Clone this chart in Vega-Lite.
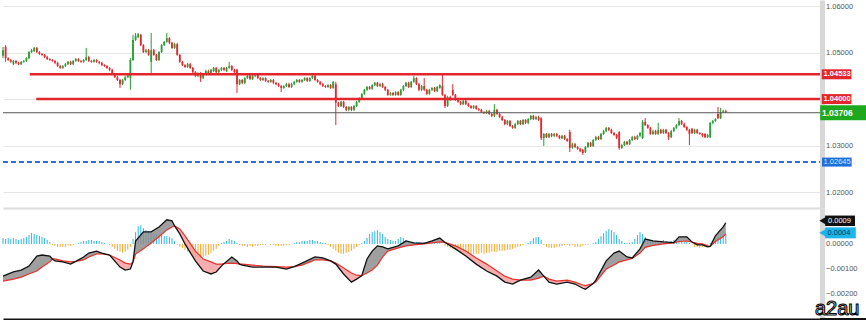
{
"$schema":"https://vega.github.io/schema/vega-lite/v6.json",
"padding":0,
"spacing":0,
"background":"#ffffff",
"config":{"view":{"stroke":null},"font":"Liberation Sans"},
"datasets":{
"candles":[
{"i":0,"o":1.0493,"h":1.0512,"l":1.0488,"c":1.0505,"hs":0.00024},
{"i":1,"o":1.0512,"h":1.0516,"l":1.0480,"c":1.0488,"hs":0.0002},
{"i":2,"o":1.0488,"h":1.0490,"l":1.0482,"c":1.0484,"hs":0.00024},
{"i":3,"o":1.0484,"h":1.0486,"l":1.0478,"c":1.0480,"hs":0.0002},
{"i":4,"o":1.0475,"h":1.0484,"l":1.0473,"c":1.0482,"hs":0.00024},
{"i":5,"o":1.0482,"h":1.0484,"l":1.0475,"c":1.0478,"hs":0.0002},
{"i":6,"o":1.0478,"h":1.0480,"l":1.0473,"c":1.0475,"hs":0.00016},
{"i":7,"o":1.0475,"h":1.0482,"l":1.0473,"c":1.0480,"hs":0.0002},
{"i":8,"o":1.0480,"h":1.0484,"l":1.0478,"c":1.0482,"hs":0.00024},
{"i":9,"o":1.0482,"h":1.0490,"l":1.0480,"c":1.0488,"hs":0.00028},
{"i":10,"o":1.0488,"h":1.0503,"l":1.0486,"c":1.0501,"hs":0.00036},
{"i":11,"o":1.0501,"h":1.0508,"l":1.0499,"c":1.0505,"hs":0.00044},
{"i":12,"o":1.0503,"h":1.0512,"l":1.0501,"c":1.0510,"hs":0.0004},
{"i":13,"o":1.0510,"h":1.0512,"l":1.0499,"c":1.0501,"hs":0.00036},
{"i":14,"o":1.0501,"h":1.0503,"l":1.0495,"c":1.0497,"hs":0.00032},
{"i":15,"o":1.0497,"h":1.0499,"l":1.0493,"c":1.0495,"hs":0.00028},
{"i":16,"o":1.0495,"h":1.0497,"l":1.0488,"c":1.0490,"hs":0.00024},
{"i":17,"o":1.0490,"h":1.0493,"l":1.0484,"c":1.0486,"hs":0.00016},
{"i":18,"o":1.0486,"h":1.0488,"l":1.0482,"c":1.0484,"hs":0.00008},
{"i":19,"o":1.0484,"h":1.0486,"l":1.0480,"c":1.0482,"hs":-0.00004},
{"i":20,"o":1.0482,"h":1.0484,"l":1.0475,"c":1.0478,"hs":-0.00008},
{"i":21,"o":1.0478,"h":1.0480,"l":1.0469,"c":1.0471,"hs":-0.00012},
{"i":22,"o":1.0471,"h":1.0473,"l":1.0465,"c":1.0467,"hs":-0.00012},
{"i":23,"o":1.0467,"h":1.0473,"l":1.0465,"c":1.0471,"hs":-0.00012},
{"i":24,"o":1.0471,"h":1.0478,"l":1.0469,"c":1.0475,"hs":-0.00012},
{"i":25,"o":1.0475,"h":1.0482,"l":1.0473,"c":1.0480,"hs":-0.00008},
{"i":26,"o":1.0480,"h":1.0482,"l":1.0473,"c":1.0475,"hs":-0.00008},
{"i":27,"o":1.0475,"h":1.0484,"l":1.0473,"c":1.0482,"hs":-0.00004},
{"i":28,"o":1.0482,"h":1.0488,"l":1.0480,"c":1.0486,"hs":0},
{"i":29,"o":1.0486,"h":1.0488,"l":1.0480,"c":1.0482,"hs":0.00004},
{"i":30,"o":1.0482,"h":1.0484,"l":1.0478,"c":1.0480,"hs":0.00008},
{"i":31,"o":1.0480,"h":1.0486,"l":1.0478,"c":1.0484,"hs":0.00012},
{"i":32,"o":1.0484,"h":1.0510,"l":1.0482,"c":1.0490,"hs":0.00012},
{"i":33,"o":1.0490,"h":1.0493,"l":1.0480,"c":1.0482,"hs":0.00016},
{"i":34,"o":1.0482,"h":1.0484,"l":1.0478,"c":1.0480,"hs":0.00016},
{"i":35,"o":1.0480,"h":1.0486,"l":1.0478,"c":1.0484,"hs":0.00012},
{"i":36,"o":1.0484,"h":1.0486,"l":1.0478,"c":1.0480,"hs":0.00012},
{"i":37,"o":1.0480,"h":1.0482,"l":1.0475,"c":1.0478,"hs":0.00012},
{"i":38,"o":1.0478,"h":1.0480,"l":1.0471,"c":1.0473,"hs":0.00008},
{"i":39,"o":1.0473,"h":1.0475,"l":1.0469,"c":1.0471,"hs":0.00004},
{"i":40,"o":1.0471,"h":1.0473,"l":1.0465,"c":1.0467,"hs":0},
{"i":41,"o":1.0467,"h":1.0469,"l":1.0460,"c":1.0463,"hs":-0.00004},
{"i":42,"o":1.0463,"h":1.0465,"l":1.0452,"c":1.0454,"hs":-0.00012},
{"i":43,"o":1.0454,"h":1.0456,"l":1.0445,"c":1.0447,"hs":-0.0002},
{"i":44,"o":1.0447,"h":1.0450,"l":1.0439,"c":1.0441,"hs":-0.00028},
{"i":45,"o":1.0441,"h":1.0443,"l":1.0424,"c":1.0432,"hs":-0.00032},
{"i":46,"o":1.0432,"h":1.0443,"l":1.0430,"c":1.0441,"hs":-0.00036},
{"i":47,"o":1.0441,"h":1.0450,"l":1.0439,"c":1.0447,"hs":-0.00032},
{"i":48,"o":1.0447,"h":1.0454,"l":1.0445,"c":1.0452,"hs":-0.00024},
{"i":49,"o":1.0445,"h":1.0488,"l":1.0420,"c":1.0484,"hs":-0.00012},
{"i":50,"o":1.0484,"h":1.0538,"l":1.0482,"c":1.0527,"hs":0.0002},
{"i":51,"o":1.0527,"h":1.0542,"l":1.0525,"c":1.0536,"hs":0.00048},
{"i":52,"o":1.0533,"h":1.0542,"l":1.0531,"c":1.0540,"hs":0.00072},
{"i":53,"o":1.0538,"h":1.0540,"l":1.0514,"c":1.0516,"hs":0.00076},
{"i":54,"o":1.0516,"h":1.0518,"l":1.0499,"c":1.0501,"hs":0.00064},
{"i":55,"o":1.0501,"h":1.0508,"l":1.0499,"c":1.0505,"hs":0.00056},
{"i":56,"o":1.0505,"h":1.0508,"l":1.0493,"c":1.0495,"hs":0.00052},
{"i":57,"o":1.0480,"h":1.0542,"l":1.0452,"c":1.0505,"hs":0.00048},
{"i":58,"o":1.0505,"h":1.0508,"l":1.0493,"c":1.0495,"hs":0.00044},
{"i":59,"o":1.0495,"h":1.0497,"l":1.0482,"c":1.0484,"hs":0.0004},
{"i":60,"o":1.0484,"h":1.0503,"l":1.0482,"c":1.0501,"hs":0.00036},
{"i":61,"o":1.0501,"h":1.0518,"l":1.0499,"c":1.0516,"hs":0.00036},
{"i":62,"o":1.0516,"h":1.0525,"l":1.0514,"c":1.0523,"hs":0.00032},
{"i":63,"o":1.0523,"h":1.0542,"l":1.0521,"c":1.0531,"hs":0.00032},
{"i":64,"o":1.0531,"h":1.0533,"l":1.0518,"c":1.0521,"hs":0.00028},
{"i":65,"o":1.0521,"h":1.0523,"l":1.0508,"c":1.0510,"hs":0.00024},
{"i":66,"o":1.0510,"h":1.0521,"l":1.0508,"c":1.0518,"hs":0.00012},
{"i":67,"o":1.0518,"h":1.0521,"l":1.0493,"c":1.0495,"hs":-0.00004},
{"i":68,"o":1.0495,"h":1.0497,"l":1.0478,"c":1.0480,"hs":-0.00012},
{"i":69,"o":1.0480,"h":1.0482,"l":1.0471,"c":1.0473,"hs":-0.00016},
{"i":70,"o":1.0473,"h":1.0475,"l":1.0467,"c":1.0469,"hs":-0.00024},
{"i":71,"o":1.0469,"h":1.0478,"l":1.0467,"c":1.0475,"hs":-0.00032},
{"i":72,"o":1.0475,"h":1.0478,"l":1.0465,"c":1.0467,"hs":-0.0004},
{"i":73,"o":1.0467,"h":1.0469,"l":1.0456,"c":1.0458,"hs":-0.00052},
{"i":74,"o":1.0458,"h":1.0460,"l":1.0447,"c":1.0450,"hs":-0.0006},
{"i":75,"o":1.0450,"h":1.0458,"l":1.0447,"c":1.0456,"hs":-0.0006},
{"i":76,"o":1.0456,"h":1.0458,"l":1.0437,"c":1.0445,"hs":-0.00056},
{"i":77,"o":1.0445,"h":1.0456,"l":1.0443,"c":1.0454,"hs":-0.00052},
{"i":78,"o":1.0454,"h":1.0463,"l":1.0452,"c":1.0460,"hs":-0.00048},
{"i":79,"o":1.0460,"h":1.0463,"l":1.0452,"c":1.0454,"hs":-0.00044},
{"i":80,"o":1.0454,"h":1.0465,"l":1.0452,"c":1.0463,"hs":-0.00036},
{"i":81,"o":1.0460,"h":1.0469,"l":1.0458,"c":1.0467,"hs":-0.00028},
{"i":82,"o":1.0467,"h":1.0469,"l":1.0456,"c":1.0458,"hs":-0.0002},
{"i":83,"o":1.0458,"h":1.0465,"l":1.0456,"c":1.0463,"hs":-0.00008},
{"i":84,"o":1.0463,"h":1.0469,"l":1.0460,"c":1.0467,"hs":0.00004},
{"i":85,"o":1.0467,"h":1.0469,"l":1.0460,"c":1.0463,"hs":0.00008},
{"i":86,"o":1.0460,"h":1.0469,"l":1.0458,"c":1.0467,"hs":0.00012},
{"i":87,"o":1.0467,"h":1.0480,"l":1.0465,"c":1.0471,"hs":0.0002},
{"i":88,"o":1.0471,"h":1.0473,"l":1.0460,"c":1.0463,"hs":0.00016},
{"i":89,"o":1.0463,"h":1.0465,"l":1.0456,"c":1.0458,"hs":0.00012},
{"i":90,"o":1.0463,"h":1.0465,"l":1.0413,"c":1.0432,"hs":0.00004},
{"i":91,"o":1.0432,"h":1.0443,"l":1.0430,"c":1.0441,"hs":-0.00004},
{"i":92,"o":1.0441,"h":1.0443,"l":1.0432,"c":1.0435,"hs":-0.00008},
{"i":93,"o":1.0435,"h":1.0447,"l":1.0432,"c":1.0445,"hs":-0.00008},
{"i":94,"o":1.0445,"h":1.0452,"l":1.0443,"c":1.0450,"hs":-0.00012},
{"i":95,"o":1.0450,"h":1.0452,"l":1.0441,"c":1.0443,"hs":-0.00008},
{"i":96,"o":1.0443,"h":1.0452,"l":1.0441,"c":1.0450,"hs":-0.00012},
{"i":97,"o":1.0450,"h":1.0456,"l":1.0447,"c":1.0454,"hs":-0.00008},
{"i":98,"o":1.0454,"h":1.0456,"l":1.0443,"c":1.0445,"hs":-0.00008},
{"i":99,"o":1.0445,"h":1.0447,"l":1.0439,"c":1.0441,"hs":-0.00004},
{"i":100,"o":1.0441,"h":1.0447,"l":1.0439,"c":1.0445,"hs":-0.00004},
{"i":101,"o":1.0445,"h":1.0447,"l":1.0437,"c":1.0439,"hs":-0.00004},
{"i":102,"o":1.0439,"h":1.0441,"l":1.0435,"c":1.0437,"hs":0},
{"i":103,"o":1.0437,"h":1.0443,"l":1.0435,"c":1.0441,"hs":-0.00004},
{"i":104,"o":1.0441,"h":1.0443,"l":1.0432,"c":1.0435,"hs":-0.00004},
{"i":105,"o":1.0435,"h":1.0437,"l":1.0430,"c":1.0432,"hs":-0.00008},
{"i":106,"o":1.0432,"h":1.0435,"l":1.0426,"c":1.0428,"hs":-0.00008},
{"i":107,"o":1.0428,"h":1.0430,"l":1.0415,"c":1.0424,"hs":-0.00008},
{"i":108,"o":1.0424,"h":1.0430,"l":1.0422,"c":1.0428,"hs":-0.00008},
{"i":109,"o":1.0428,"h":1.0435,"l":1.0426,"c":1.0432,"hs":-0.00004},
{"i":110,"o":1.0432,"h":1.0435,"l":1.0424,"c":1.0426,"hs":-0.00004},
{"i":111,"o":1.0426,"h":1.0435,"l":1.0424,"c":1.0432,"hs":0},
{"i":112,"o":1.0432,"h":1.0439,"l":1.0430,"c":1.0437,"hs":0.00004},
{"i":113,"o":1.0437,"h":1.0443,"l":1.0435,"c":1.0441,"hs":0.00008},
{"i":114,"o":1.0441,"h":1.0443,"l":1.0435,"c":1.0437,"hs":0.00008},
{"i":115,"o":1.0437,"h":1.0443,"l":1.0435,"c":1.0441,"hs":0.00012},
{"i":116,"o":1.0441,"h":1.0447,"l":1.0439,"c":1.0445,"hs":0.00012},
{"i":117,"o":1.0445,"h":1.0447,"l":1.0437,"c":1.0439,"hs":0.00012},
{"i":118,"o":1.0439,"h":1.0447,"l":1.0437,"c":1.0445,"hs":0.00016},
{"i":119,"o":1.0445,"h":1.0454,"l":1.0443,"c":1.0450,"hs":0.00016},
{"i":120,"o":1.0450,"h":1.0452,"l":1.0439,"c":1.0441,"hs":0.00012},
{"i":121,"o":1.0441,"h":1.0443,"l":1.0435,"c":1.0437,"hs":0.00012},
{"i":122,"o":1.0437,"h":1.0439,"l":1.0430,"c":1.0432,"hs":0.00008},
{"i":123,"o":1.0432,"h":1.0435,"l":1.0426,"c":1.0428,"hs":0.00004},
{"i":124,"o":1.0428,"h":1.0430,"l":1.0424,"c":1.0426,"hs":0.00004},
{"i":125,"o":1.0426,"h":1.0432,"l":1.0424,"c":1.0430,"hs":-0.00004},
{"i":126,"o":1.0430,"h":1.0432,"l":1.0422,"c":1.0424,"hs":-0.00012},
{"i":127,"o":1.0424,"h":1.0439,"l":1.0422,"c":1.0437,"hs":-0.0002},
{"i":128,"o":1.0432,"h":1.0437,"l":1.0344,"c":1.0392,"hs":-0.00028},
{"i":129,"o":1.0392,"h":1.0394,"l":1.0383,"c":1.0385,"hs":-0.00036},
{"i":130,"o":1.0385,"h":1.0396,"l":1.0383,"c":1.0394,"hs":-0.0004},
{"i":131,"o":1.0394,"h":1.0396,"l":1.0381,"c":1.0383,"hs":-0.0004},
{"i":132,"o":1.0383,"h":1.0385,"l":1.0374,"c":1.0377,"hs":-0.00036},
{"i":133,"o":1.0377,"h":1.0385,"l":1.0374,"c":1.0383,"hs":-0.00032},
{"i":134,"o":1.0383,"h":1.0385,"l":1.0374,"c":1.0377,"hs":-0.00028},
{"i":135,"o":1.0377,"h":1.0387,"l":1.0374,"c":1.0385,"hs":-0.0002},
{"i":136,"o":1.0385,"h":1.0396,"l":1.0383,"c":1.0394,"hs":-0.00012},
{"i":137,"o":1.0394,"h":1.0404,"l":1.0392,"c":1.0402,"hs":-0.00004},
{"i":138,"o":1.0402,"h":1.0413,"l":1.0400,"c":1.0411,"hs":0.00004},
{"i":139,"o":1.0411,"h":1.0422,"l":1.0409,"c":1.0420,"hs":0.00012},
{"i":140,"o":1.0420,"h":1.0428,"l":1.0417,"c":1.0426,"hs":0.00024},
{"i":141,"o":1.0426,"h":1.0428,"l":1.0420,"c":1.0422,"hs":0.0004},
{"i":142,"o":1.0422,"h":1.0432,"l":1.0420,"c":1.0430,"hs":0.00048},
{"i":143,"o":1.0430,"h":1.0437,"l":1.0428,"c":1.0435,"hs":0.00052},
{"i":144,"o":1.0435,"h":1.0437,"l":1.0426,"c":1.0428,"hs":0.00056},
{"i":145,"o":1.0428,"h":1.0435,"l":1.0426,"c":1.0432,"hs":0.00048},
{"i":146,"o":1.0432,"h":1.0435,"l":1.0424,"c":1.0426,"hs":0.0004},
{"i":147,"o":1.0426,"h":1.0428,"l":1.0417,"c":1.0420,"hs":0.00028},
{"i":148,"o":1.0420,"h":1.0422,"l":1.0407,"c":1.0409,"hs":0.0002},
{"i":149,"o":1.0409,"h":1.0415,"l":1.0407,"c":1.0413,"hs":0.00016},
{"i":150,"o":1.0413,"h":1.0415,"l":1.0407,"c":1.0409,"hs":0.00012},
{"i":151,"o":1.0409,"h":1.0417,"l":1.0407,"c":1.0415,"hs":0.00012},
{"i":152,"o":1.0415,"h":1.0417,"l":1.0407,"c":1.0409,"hs":0.0002},
{"i":153,"o":1.0409,"h":1.0422,"l":1.0407,"c":1.0420,"hs":0.00028},
{"i":154,"o":1.0420,"h":1.0430,"l":1.0417,"c":1.0428,"hs":0.00024},
{"i":155,"o":1.0428,"h":1.0437,"l":1.0426,"c":1.0435,"hs":0.00016},
{"i":156,"o":1.0435,"h":1.0437,"l":1.0424,"c":1.0426,"hs":0.00012},
{"i":157,"o":1.0426,"h":1.0439,"l":1.0424,"c":1.0437,"hs":0.00008},
{"i":158,"o":1.0437,"h":1.0450,"l":1.0435,"c":1.0445,"hs":0.00008},
{"i":159,"o":1.0445,"h":1.0447,"l":1.0430,"c":1.0432,"hs":0.00008},
{"i":160,"o":1.0432,"h":1.0435,"l":1.0417,"c":1.0420,"hs":0.00008},
{"i":161,"o":1.0420,"h":1.0430,"l":1.0417,"c":1.0428,"hs":0.00004},
{"i":162,"o":1.0428,"h":1.0445,"l":1.0417,"c":1.0420,"hs":0.00008},
{"i":163,"o":1.0420,"h":1.0422,"l":1.0409,"c":1.0411,"hs":0.00008},
{"i":164,"o":1.0411,"h":1.0422,"l":1.0409,"c":1.0420,"hs":0.00004},
{"i":165,"o":1.0420,"h":1.0426,"l":1.0417,"c":1.0424,"hs":0.00008},
{"i":166,"o":1.0424,"h":1.0426,"l":1.0415,"c":1.0417,"hs":0.00008},
{"i":167,"o":1.0417,"h":1.0428,"l":1.0415,"c":1.0426,"hs":0.00004},
{"i":168,"o":1.0424,"h":1.0432,"l":1.0422,"c":1.0430,"hs":0.00004},
{"i":169,"o":1.0428,"h":1.0454,"l":1.0407,"c":1.0409,"hs":0},
{"i":170,"o":1.0409,"h":1.0411,"l":1.0381,"c":1.0385,"hs":-0.00008},
{"i":171,"o":1.0385,"h":1.0407,"l":1.0383,"c":1.0404,"hs":-0.00012},
{"i":172,"o":1.0404,"h":1.0407,"l":1.0396,"c":1.0398,"hs":-0.00016},
{"i":173,"o":1.0420,"h":1.0432,"l":1.0407,"c":1.0409,"hs":-0.0002},
{"i":174,"o":1.0409,"h":1.0411,"l":1.0396,"c":1.0398,"hs":-0.00024},
{"i":175,"o":1.0398,"h":1.0400,"l":1.0392,"c":1.0394,"hs":-0.00028},
{"i":176,"o":1.0394,"h":1.0396,"l":1.0387,"c":1.0389,"hs":-0.00032},
{"i":177,"o":1.0389,"h":1.0398,"l":1.0387,"c":1.0396,"hs":-0.00036},
{"i":178,"o":1.0396,"h":1.0398,"l":1.0387,"c":1.0389,"hs":-0.00036},
{"i":179,"o":1.0389,"h":1.0392,"l":1.0383,"c":1.0385,"hs":-0.00036},
{"i":180,"o":1.0385,"h":1.0387,"l":1.0379,"c":1.0381,"hs":-0.0004},
{"i":181,"o":1.0381,"h":1.0387,"l":1.0379,"c":1.0385,"hs":-0.0004},
{"i":182,"o":1.0385,"h":1.0387,"l":1.0377,"c":1.0379,"hs":-0.0004},
{"i":183,"o":1.0379,"h":1.0381,"l":1.0374,"c":1.0377,"hs":-0.0004},
{"i":184,"o":1.0377,"h":1.0379,"l":1.0370,"c":1.0372,"hs":-0.00036},
{"i":185,"o":1.0372,"h":1.0374,"l":1.0368,"c":1.0370,"hs":-0.0004},
{"i":186,"o":1.0370,"h":1.0377,"l":1.0368,"c":1.0374,"hs":-0.00036},
{"i":187,"o":1.0374,"h":1.0377,"l":1.0366,"c":1.0368,"hs":-0.00036},
{"i":188,"o":1.0368,"h":1.0370,"l":1.0361,"c":1.0364,"hs":-0.00032},
{"i":189,"o":1.0364,"h":1.0389,"l":1.0361,"c":1.0377,"hs":-0.00032},
{"i":190,"o":1.0377,"h":1.0379,"l":1.0366,"c":1.0368,"hs":-0.00032},
{"i":191,"o":1.0368,"h":1.0370,"l":1.0359,"c":1.0361,"hs":-0.00028},
{"i":192,"o":1.0361,"h":1.0364,"l":1.0353,"c":1.0355,"hs":-0.00028},
{"i":193,"o":1.0355,"h":1.0357,"l":1.0344,"c":1.0346,"hs":-0.00028},
{"i":194,"o":1.0346,"h":1.0355,"l":1.0344,"c":1.0353,"hs":-0.00024},
{"i":195,"o":1.0353,"h":1.0355,"l":1.0340,"c":1.0342,"hs":-0.00024},
{"i":196,"o":1.0342,"h":1.0344,"l":1.0336,"c":1.0338,"hs":-0.0002},
{"i":197,"o":1.0338,"h":1.0349,"l":1.0336,"c":1.0346,"hs":-0.00016},
{"i":198,"o":1.0346,"h":1.0355,"l":1.0344,"c":1.0353,"hs":-0.00012},
{"i":199,"o":1.0353,"h":1.0355,"l":1.0344,"c":1.0346,"hs":-0.00008},
{"i":200,"o":1.0346,"h":1.0357,"l":1.0344,"c":1.0355,"hs":-0.00004},
{"i":201,"o":1.0355,"h":1.0357,"l":1.0346,"c":1.0349,"hs":0},
{"i":202,"o":1.0349,"h":1.0359,"l":1.0346,"c":1.0357,"hs":0.00004},
{"i":203,"o":1.0357,"h":1.0366,"l":1.0355,"c":1.0364,"hs":0.00012},
{"i":204,"o":1.0364,"h":1.0366,"l":1.0355,"c":1.0357,"hs":0.00024},
{"i":205,"o":1.0357,"h":1.0364,"l":1.0355,"c":1.0361,"hs":0.00028},
{"i":206,"o":1.0361,"h":1.0364,"l":1.0353,"c":1.0355,"hs":0.00028},
{"i":207,"o":1.0359,"h":1.0361,"l":1.0312,"c":1.0316,"hs":0.00016},
{"i":208,"o":1.0316,"h":1.0327,"l":1.0299,"c":1.0325,"hs":-0.00004},
{"i":209,"o":1.0325,"h":1.0327,"l":1.0316,"c":1.0318,"hs":-0.00012},
{"i":210,"o":1.0318,"h":1.0327,"l":1.0316,"c":1.0325,"hs":-0.00016},
{"i":211,"o":1.0325,"h":1.0327,"l":1.0318,"c":1.0321,"hs":-0.00016},
{"i":212,"o":1.0321,"h":1.0327,"l":1.0318,"c":1.0325,"hs":-0.00016},
{"i":213,"o":1.0325,"h":1.0327,"l":1.0318,"c":1.0321,"hs":-0.00012},
{"i":214,"o":1.0321,"h":1.0323,"l":1.0314,"c":1.0316,"hs":-0.00012},
{"i":215,"o":1.0316,"h":1.0323,"l":1.0314,"c":1.0321,"hs":-0.00008},
{"i":216,"o":1.0321,"h":1.0323,"l":1.0312,"c":1.0314,"hs":-0.00004},
{"i":217,"o":1.0314,"h":1.0316,"l":1.0308,"c":1.0310,"hs":-0.00004},
{"i":218,"o":1.0329,"h":1.0334,"l":1.0286,"c":1.0295,"hs":-0.00008},
{"i":219,"o":1.0295,"h":1.0306,"l":1.0293,"c":1.0303,"hs":-0.00004},
{"i":220,"o":1.0303,"h":1.0306,"l":1.0295,"c":1.0297,"hs":-0.00012},
{"i":221,"o":1.0297,"h":1.0299,"l":1.0291,"c":1.0293,"hs":-0.00012},
{"i":222,"o":1.0293,"h":1.0295,"l":1.0286,"c":1.0288,"hs":-0.00012},
{"i":223,"o":1.0291,"h":1.0293,"l":1.0280,"c":1.0284,"hs":-0.00008},
{"i":224,"o":1.0286,"h":1.0299,"l":1.0284,"c":1.0297,"hs":-0.00004},
{"i":225,"o":1.0297,"h":1.0308,"l":1.0295,"c":1.0306,"hs":-0.00004},
{"i":226,"o":1.0306,"h":1.0308,"l":1.0297,"c":1.0299,"hs":0},
{"i":227,"o":1.0299,"h":1.0314,"l":1.0297,"c":1.0312,"hs":0.00004},
{"i":228,"o":1.0312,"h":1.0321,"l":1.0310,"c":1.0318,"hs":0.00008},
{"i":229,"o":1.0318,"h":1.0321,"l":1.0312,"c":1.0314,"hs":0.0002},
{"i":230,"o":1.0314,"h":1.0327,"l":1.0312,"c":1.0325,"hs":0.00032},
{"i":231,"o":1.0325,"h":1.0334,"l":1.0323,"c":1.0331,"hs":0.00044},
{"i":232,"o":1.0331,"h":1.0340,"l":1.0329,"c":1.0338,"hs":0.00052},
{"i":233,"o":1.0338,"h":1.0340,"l":1.0331,"c":1.0334,"hs":0.0006},
{"i":234,"o":1.0334,"h":1.0336,"l":1.0325,"c":1.0327,"hs":0.00056},
{"i":235,"o":1.0327,"h":1.0329,"l":1.0321,"c":1.0323,"hs":0.00048},
{"i":236,"o":1.0323,"h":1.0325,"l":1.0314,"c":1.0316,"hs":0.00036},
{"i":237,"o":1.0329,"h":1.0331,"l":1.0291,"c":1.0295,"hs":0.0002},
{"i":238,"o":1.0295,"h":1.0303,"l":1.0293,"c":1.0301,"hs":0.00012},
{"i":239,"o":1.0301,"h":1.0310,"l":1.0299,"c":1.0308,"hs":0.00004},
{"i":240,"o":1.0308,"h":1.0310,"l":1.0301,"c":1.0303,"hs":0.00004},
{"i":241,"o":1.0303,"h":1.0314,"l":1.0301,"c":1.0312,"hs":0.00004},
{"i":242,"o":1.0312,"h":1.0321,"l":1.0310,"c":1.0318,"hs":0.00008},
{"i":243,"o":1.0318,"h":1.0321,"l":1.0312,"c":1.0314,"hs":0.0002},
{"i":244,"o":1.0314,"h":1.0323,"l":1.0312,"c":1.0321,"hs":0.00036},
{"i":245,"o":1.0321,"h":1.0329,"l":1.0318,"c":1.0327,"hs":0.00048},
{"i":246,"o":1.0316,"h":1.0355,"l":1.0314,"c":1.0351,"hs":0.0004},
{"i":247,"o":1.0351,"h":1.0359,"l":1.0342,"c":1.0344,"hs":0.00028},
{"i":248,"o":1.0344,"h":1.0346,"l":1.0336,"c":1.0338,"hs":0.0002},
{"i":249,"o":1.0338,"h":1.0340,"l":1.0323,"c":1.0325,"hs":0.00016},
{"i":250,"o":1.0325,"h":1.0334,"l":1.0323,"c":1.0331,"hs":0.00012},
{"i":251,"o":1.0331,"h":1.0334,"l":1.0323,"c":1.0325,"hs":0.00012},
{"i":252,"o":1.0325,"h":1.0349,"l":1.0323,"c":1.0334,"hs":0.00008},
{"i":253,"o":1.0334,"h":1.0336,"l":1.0325,"c":1.0327,"hs":0.00012},
{"i":254,"o":1.0327,"h":1.0336,"l":1.0325,"c":1.0334,"hs":0.00016},
{"i":255,"o":1.0334,"h":1.0336,"l":1.0325,"c":1.0327,"hs":0.00012},
{"i":256,"o":1.0327,"h":1.0329,"l":1.0312,"c":1.0318,"hs":0.00008},
{"i":257,"o":1.0318,"h":1.0334,"l":1.0316,"c":1.0331,"hs":0.00012},
{"i":258,"o":1.0331,"h":1.0340,"l":1.0329,"c":1.0338,"hs":0.00016},
{"i":259,"o":1.0338,"h":1.0346,"l":1.0336,"c":1.0344,"hs":0.00016},
{"i":260,"o":1.0344,"h":1.0359,"l":1.0342,"c":1.0353,"hs":0.00012},
{"i":261,"o":1.0353,"h":1.0355,"l":1.0344,"c":1.0346,"hs":0.00012},
{"i":262,"o":1.0346,"h":1.0349,"l":1.0338,"c":1.0340,"hs":0.00008},
{"i":263,"o":1.0340,"h":1.0342,"l":1.0331,"c":1.0334,"hs":0.00008},
{"i":264,"o":1.0334,"h":1.0336,"l":1.0301,"c":1.0325,"hs":0.00004},
{"i":265,"o":1.0336,"h":1.0338,"l":1.0325,"c":1.0327,"hs":-0.00004},
{"i":266,"o":1.0327,"h":1.0336,"l":1.0325,"c":1.0334,"hs":-0.00012},
{"i":267,"o":1.0334,"h":1.0336,"l":1.0325,"c":1.0327,"hs":-0.00012},
{"i":268,"o":1.0327,"h":1.0329,"l":1.0323,"c":1.0325,"hs":-0.00016},
{"i":269,"o":1.0325,"h":1.0327,"l":1.0318,"c":1.0321,"hs":-0.00012},
{"i":270,"o":1.0325,"h":1.0327,"l":1.0316,"c":1.0318,"hs":-0.00012},
{"i":271,"o":1.0318,"h":1.0325,"l":1.0316,"c":1.0323,"hs":-0.00008},
{"i":272,"o":1.0318,"h":1.0351,"l":1.0316,"c":1.0349,"hs":0.00004},
{"i":273,"o":1.0349,"h":1.0355,"l":1.0346,"c":1.0353,"hs":0.00012},
{"i":274,"o":1.0353,"h":1.0359,"l":1.0351,"c":1.0357,"hs":0.0002},
{"i":275,"o":1.0368,"h":1.0383,"l":1.0357,"c":1.0359,"hs":0.00028},
{"i":276,"o":1.0359,"h":1.0381,"l":1.0357,"c":1.0372,"hs":0.00036},
{"i":277,"o":1.0372,"h":1.0377,"l":1.0370,"c":1.0374,"hs":0.0004},
{"i":278,"o":1.0374,"h":1.0377,"l":1.0370,"c":1.0372,"hs":0.0004}
],
"macd":[
{"i":0,"m":-0.00131,"s":-0.00151,"seg":1,"dir":"up"},
{"i":4,"m":-0.00114,"s":-0.00143,"seg":1,"dir":"up"},
{"i":7,"m":-0.00106,"s":-0.00135,"seg":1,"dir":"up"},
{"i":10,"m":-0.0009,"s":-0.00122,"seg":1,"dir":"up"},
{"i":13,"m":-0.00049,"s":-0.0011,"seg":1,"dir":"up"},
{"i":15,"m":-0.00045,"s":-0.00094,"seg":1,"dir":"up"},
{"i":18,"m":-0.00049,"s":-0.00073,"seg":1,"dir":"up"},
{"i":19,"m":-0.00061,"s":-0.00061,"seg":1,"dir":"up"},
{"i":19,"m":-0.00061,"s":-0.00061,"seg":2,"dir":"down"},
{"i":20,"m":-0.00069,"s":-0.00061,"seg":2,"dir":"down"},
{"i":23,"m":-0.00073,"s":-0.00069,"seg":2,"dir":"down"},
{"i":26,"m":-0.00082,"s":-0.00073,"seg":2,"dir":"down"},
{"i":28,"m":-0.00071,"s":-0.00071,"seg":2,"dir":"down"},
{"i":28,"m":-0.00071,"s":-0.00071,"seg":3,"dir":"up"},
{"i":31,"m":-0.00053,"s":-0.00065,"seg":3,"dir":"up"},
{"i":33,"m":-0.00037,"s":-0.00053,"seg":3,"dir":"up"},
{"i":36,"m":-0.00029,"s":-0.00041,"seg":3,"dir":"up"},
{"i":38,"m":-0.00037,"s":-0.00041,"seg":3,"dir":"up"},
{"i":41,"m":-0.00045,"s":-0.00045,"seg":3,"dir":"up"},
{"i":41,"m":-0.00045,"s":-0.00045,"seg":4,"dir":"down"},
{"i":45,"m":-0.00094,"s":-0.00065,"seg":4,"dir":"down"},
{"i":47,"m":-0.00106,"s":-0.00078,"seg":4,"dir":"down"},
{"i":49,"m":-0.00102,"s":-0.00082,"seg":4,"dir":"down"},
{"i":50,"m":-0.00073,"s":-0.00073,"seg":4,"dir":"down"},
{"i":50,"m":-0.00073,"s":-0.00073,"seg":5,"dir":"up"},
{"i":51,"m":0.00012,"s":-0.00041,"seg":5,"dir":"up"},
{"i":54,"m":0.00049,"s":-0.0002,"seg":5,"dir":"up"},
{"i":57,"m":0.00049,"s":0.00004,"seg":5,"dir":"up"},
{"i":60,"m":0.00069,"s":0.00029,"seg":5,"dir":"up"},
{"i":63,"m":0.00098,"s":0.00057,"seg":5,"dir":"up"},
{"i":65,"m":0.00094,"s":0.00069,"seg":5,"dir":"up"},
{"i":66,"m":0.00073,"s":0.00073,"seg":5,"dir":"up"},
{"i":66,"m":0.00073,"s":0.00073,"seg":6,"dir":"down"},
{"i":68,"m":0.00041,"s":0.00061,"seg":6,"dir":"down"},
{"i":70,"m":0,"s":0.00033,"seg":6,"dir":"down"},
{"i":74,"m":-0.00069,"s":-0.00029,"seg":6,"dir":"down"},
{"i":77,"m":-0.0011,"s":-0.00061,"seg":6,"dir":"down"},
{"i":80,"m":-0.00122,"s":-0.00073,"seg":6,"dir":"down"},
{"i":82,"m":-0.00114,"s":-0.00082,"seg":6,"dir":"down"},
{"i":84,"m":-0.0009,"s":-0.00082,"seg":6,"dir":"down"},
{"i":85,"m":-0.0008,"s":-0.0008,"seg":6,"dir":"down"},
{"i":85,"m":-0.0008,"s":-0.0008,"seg":7,"dir":"up"},
{"i":88,"m":-0.00053,"s":-0.00078,"seg":7,"dir":"up"},
{"i":90,"m":-0.00069,"s":-0.0008,"seg":7,"dir":"up"},
{"i":91,"m":-0.00082,"s":-0.00082,"seg":7,"dir":"up"},
{"i":91,"m":-0.00082,"s":-0.00082,"seg":8,"dir":"down"},
{"i":92,"m":-0.00086,"s":-0.00082,"seg":8,"dir":"down"},
{"i":96,"m":-0.00094,"s":-0.00086,"seg":8,"dir":"down"},
{"i":100,"m":-0.00094,"s":-0.0009,"seg":8,"dir":"down"},
{"i":105,"m":-0.00094,"s":-0.00092,"seg":8,"dir":"down"},
{"i":109,"m":-0.00102,"s":-0.00094,"seg":8,"dir":"down"},
{"i":112,"m":-0.00092,"s":-0.00092,"seg":8,"dir":"down"},
{"i":112,"m":-0.00092,"s":-0.00092,"seg":9,"dir":"up"},
{"i":115,"m":-0.00078,"s":-0.00086,"seg":9,"dir":"up"},
{"i":120,"m":-0.00053,"s":-0.00065,"seg":9,"dir":"up"},
{"i":123,"m":-0.00057,"s":-0.00065,"seg":9,"dir":"up"},
{"i":126,"m":-0.00069,"s":-0.00069,"seg":9,"dir":"up"},
{"i":126,"m":-0.00069,"s":-0.00069,"seg":10,"dir":"down"},
{"i":128,"m":-0.00082,"s":-0.00078,"seg":10,"dir":"down"},
{"i":131,"m":-0.00122,"s":-0.00098,"seg":10,"dir":"down"},
{"i":134,"m":-0.00155,"s":-0.00118,"seg":10,"dir":"down"},
{"i":136,"m":-0.00143,"s":-0.00127,"seg":10,"dir":"down"},
{"i":138,"m":-0.00129,"s":-0.00129,"seg":10,"dir":"down"},
{"i":138,"m":-0.00129,"s":-0.00129,"seg":11,"dir":"up"},
{"i":140,"m":-0.00061,"s":-0.00118,"seg":11,"dir":"up"},
{"i":142,"m":-0.00029,"s":-0.00106,"seg":11,"dir":"up"},
{"i":144,"m":-0.00008,"s":-0.00086,"seg":11,"dir":"up"},
{"i":146,"m":-0.00012,"s":-0.00053,"seg":11,"dir":"up"},
{"i":148,"m":-0.0002,"s":-0.00029,"seg":11,"dir":"up"},
{"i":152,"m":-0.00008,"s":-0.00016,"seg":11,"dir":"up"},
{"i":155,"m":0.00012,"s":-0.00008,"seg":11,"dir":"up"},
{"i":158,"m":0.00004,"s":-0.00004,"seg":11,"dir":"up"},
{"i":162,"m":0.00002,"s":0,"seg":11,"dir":"up"},
{"i":165,"m":0.00012,"s":0.00004,"seg":11,"dir":"up"},
{"i":168,"m":0.00024,"s":0.00008,"seg":11,"dir":"up"},
{"i":170,"m":0.00006,"s":0.00006,"seg":11,"dir":"up"},
{"i":170,"m":0.00006,"s":0.00006,"seg":12,"dir":"down"},
{"i":174,"m":-0.0002,"s":-0.00008,"seg":12,"dir":"down"},
{"i":178,"m":-0.00049,"s":-0.00029,"seg":12,"dir":"down"},
{"i":182,"m":-0.00082,"s":-0.00057,"seg":12,"dir":"down"},
{"i":186,"m":-0.0011,"s":-0.00082,"seg":12,"dir":"down"},
{"i":190,"m":-0.00131,"s":-0.0011,"seg":12,"dir":"down"},
{"i":193,"m":-0.00155,"s":-0.00131,"seg":12,"dir":"down"},
{"i":196,"m":-0.00163,"s":-0.00143,"seg":12,"dir":"down"},
{"i":199,"m":-0.00147,"s":-0.00147,"seg":12,"dir":"down"},
{"i":199,"m":-0.00147,"s":-0.00147,"seg":13,"dir":"up"},
{"i":203,"m":-0.00135,"s":-0.00147,"seg":13,"dir":"up"},
{"i":206,"m":-0.00106,"s":-0.00139,"seg":13,"dir":"up"},
{"i":208,"m":-0.00131,"s":-0.00131,"seg":13,"dir":"up"},
{"i":208,"m":-0.00131,"s":-0.00131,"seg":14,"dir":"down"},
{"i":210,"m":-0.00155,"s":-0.00143,"seg":14,"dir":"down"},
{"i":213,"m":-0.00163,"s":-0.00151,"seg":14,"dir":"down"},
{"i":217,"m":-0.00155,"s":-0.00147,"seg":14,"dir":"down"},
{"i":220,"m":-0.00163,"s":-0.00155,"seg":14,"dir":"down"},
{"i":223,"m":-0.0018,"s":-0.00167,"seg":14,"dir":"down"},
{"i":224,"m":-0.00184,"s":-0.00169,"seg":14,"dir":"down"},
{"i":227,"m":-0.00161,"s":-0.00161,"seg":14,"dir":"down"},
{"i":227,"m":-0.00161,"s":-0.00161,"seg":15,"dir":"up"},
{"i":228,"m":-0.00147,"s":-0.00155,"seg":15,"dir":"up"},
{"i":232,"m":-0.00069,"s":-0.00102,"seg":15,"dir":"up"},
{"i":235,"m":-0.00037,"s":-0.00086,"seg":15,"dir":"up"},
{"i":237,"m":-0.00029,"s":-0.00073,"seg":15,"dir":"up"},
{"i":240,"m":-0.00053,"s":-0.00065,"seg":15,"dir":"up"},
{"i":242,"m":-0.00057,"s":-0.00059,"seg":15,"dir":"up"},
{"i":245,"m":-0.0002,"s":-0.00037,"seg":15,"dir":"up"},
{"i":247,"m":0.0002,"s":-0.00014,"seg":15,"dir":"up"},
{"i":250,"m":0.00012,"s":-0.00006,"seg":15,"dir":"up"},
{"i":254,"m":0.00008,"s":0,"seg":15,"dir":"up"},
{"i":258,"m":0.00005,"s":0.00004,"seg":15,"dir":"up"},
{"i":260,"m":0.00029,"s":0.0001,"seg":15,"dir":"up"},
{"i":263,"m":0.00029,"s":0.00012,"seg":15,"dir":"up"},
{"i":265,"m":0.00008,"s":0.00008,"seg":15,"dir":"up"},
{"i":265,"m":0.00008,"s":0.00008,"seg":16,"dir":"down"},
{"i":267,"m":-0.00004,"s":0.00002,"seg":16,"dir":"down"},
{"i":269,"m":-0.00004,"s":0,"seg":16,"dir":"down"},
{"i":271,"m":-0.00012,"s":-0.00008,"seg":16,"dir":"down"},
{"i":272,"m":-0.0001,"s":-0.0001,"seg":16,"dir":"down"},
{"i":272,"m":-0.0001,"s":-0.0001,"seg":17,"dir":"up"},
{"i":274,"m":0.00033,"s":0.0001,"seg":17,"dir":"up"},
{"i":277,"m":0.00069,"s":0.00029,"seg":17,"dir":"up"},
{"i":278,"m":0.00086,"s":0.00041,"seg":17,"dir":"up"}
],
"levels":[
{"kind":"res","price":1.04533,"from":10.3,"label":"1.04533"},
{"kind":"res","price":1.04,"from":12.8,"label":"1.04000"},
{"kind":"last","price":1.03706,"from":0,"label":"1.03706"},
{"kind":"sup","price":1.02645,"from":0,"label":"1.02645"}
],
"mtags":[
{"kind":"macd","value":0.00094,"label":"0.0009"},
{"kind":"hist","value":0.00045,"label":"0.0004"}
]
},
"vconcat":[
{
"width":817,"height":208,
"layer":[
{"data":{"name":"candles"},
"mark":{"type":"rule","strokeWidth":1},
"encoding":{
"x":{"field":"i","type":"quantitative","scale":{"domain":[0,314.23],"nice":false,"zero":false},"axis":{"orient":"bottom","labels":false,"ticks":false,"grid":false,"domain":true,"domainColor":"#dcdcdc","domainWidth":2,"title":null}},
"y":{"field":"l","type":"quantitative","scale":{"domain":[1.01658,1.0613],"nice":false,"zero":false},"axis":{"orient":"right","values":[1.02,1.03,1.04,1.05,1.06],"labelExpr":"abs(datum.value - 1.04) < 0.0001 ? '' : format(datum.value, '.5f')","grid":true,"gridColor":"#e6e6e6","gridWidth":1,"domain":true,"domainColor":"#d8d8d8","domainWidth":5,"offset":2,"ticks":false,"tickSize":0,"labelPadding":3.5,"labelFontSize":7.5,"labelFont":"Liberation Sans","labelColor":"#555555","labelAlign":"left","title":null}},
"y2":{"field":"h"},
"color":{"condition":{"test":"datum.c >= datum.o","value":"#2a9d36"},"value":"#e0292f"}
}},
{"data":{"name":"candles"},
"mark":{"type":"rule","strokeWidth":1.8},
"encoding":{
"x":{"field":"i","type":"quantitative"},
"y":{"field":"o","type":"quantitative"},
"y2":{"field":"c"},
"color":{"condition":{"test":"datum.c >= datum.o","value":"#2a9d36"},"value":"#e0292f"}
}},
{"data":{"name":"levels"},"transform":[{"filter":"datum.kind == 'res'"}],
"mark":{"type":"rule","strokeWidth":2.4,"color":"#e3262b"},
"encoding":{"x":{"field":"from","type":"quantitative"},"x2":{"datum":314.23},"y":{"field":"price","type":"quantitative"}}},
{"data":{"name":"levels"},"transform":[{"filter":"datum.kind == 'last'"}],
"mark":{"type":"rule","strokeWidth":1,"color":"#555555"},
"encoding":{"x":{"field":"from","type":"quantitative"},"x2":{"datum":314.23},"y":{"field":"price","type":"quantitative"}}},
{"data":{"name":"levels"},"transform":[{"filter":"datum.kind == 'sup'"}],
"mark":{"type":"rule","strokeWidth":2,"color":"#2b6fd6","strokeDash":[5,3]},
"encoding":{"x":{"field":"from","type":"quantitative"},"x2":{"datum":314.23},"y":{"field":"price","type":"quantitative"}}},
{"data":{"name":"levels"},"transform":[{"filter":"datum.kind == 'res'"}],
"mark":{"type":"rule","strokeWidth":10,"color":"#e3262b"},
"encoding":{"x":{"datum":314.9},"x2":{"datum":326.3},"y":{"field":"price","type":"quantitative"}}},
{"data":{"name":"levels"},"transform":[{"filter":"datum.kind == 'last'"}],
"mark":{"type":"rule","strokeWidth":15,"color":"#1ea81e"},
"encoding":{"x":{"datum":314.3},"x2":{"datum":332.9},"y":{"field":"price","type":"quantitative"}}},
{"data":{"name":"levels"},"transform":[{"filter":"datum.kind == 'sup'"}],
"mark":{"type":"rule","strokeWidth":9,"color":"#1e6fd9"},
"encoding":{"x":{"datum":315.0},"x2":{"datum":326.4},"y":{"field":"price","type":"quantitative"}}},
{"data":{"name":"levels"},"transform":[{"filter":"datum.kind == 'res'"}],
"mark":{"type":"text","align":"left","baseline":"middle","fontSize":7.5,"fontWeight":"bold","font":"Liberation Sans","color":"#ffffff"},
"encoding":{"x":{"datum":315.6},"y":{"field":"price","type":"quantitative"},"text":{"field":"label"}}},
{"data":{"name":"levels"},"transform":[{"filter":"datum.kind == 'last'"}],
"mark":{"type":"text","align":"left","baseline":"middle","fontSize":8.5,"fontWeight":"bold","font":"Liberation Sans","color":"#ffffff"},
"encoding":{"x":{"datum":315.0},"y":{"field":"price","type":"quantitative"},"text":{"field":"label"}}},
{"data":{"name":"levels"},"transform":[{"filter":"datum.kind == 'sup'"}],
"mark":{"type":"text","align":"left","baseline":"middle","fontSize":7.5,"font":"Liberation Sans","color":"#d8e8ff"},
"encoding":{"x":{"datum":315.6},"y":{"field":"price","type":"quantitative"},"text":{"field":"label"}}}
]
},
{
"width":817,"height":111,
"layer":[
{"data":{"name":"candles"},
"mark":{"type":"rule","strokeWidth":1},
"encoding":{
"x":{"field":"i","type":"quantitative","scale":{"domain":[0,314.23],"nice":false,"zero":false},"axis":{"orient":"bottom","labels":false,"ticks":false,"grid":false,"domain":true,"domainColor":"#111111","domainWidth":2,"title":null}},
"y":{"field":"hs","type":"quantitative","scale":{"domain":[-0.00305,0.00146],"nice":false,"zero":false},"axis":{"orient":"right","values":[0,-0.001,-0.002],"format":".5f","grid":false,"domain":true,"domainColor":"#d8d8d8","domainWidth":5,"offset":2,"ticks":false,"tickSize":0,"labelPadding":3.5,"labelFontSize":7.5,"labelFont":"Liberation Sans","labelColor":"#555555","labelAlign":"left","title":null}},
"y2":{"datum":0},
"color":{"condition":{"test":"datum.hs >= 0","value":"#2cb5e5"},"value":"#f0a92a"}
}},
{"data":{"name":"macd"},
"mark":{"type":"area","orient":"vertical","opacity":0.85},
"encoding":{
"x":{"field":"i","type":"quantitative"},
"y":{"field":"m","type":"quantitative","stack":null},
"y2":{"field":"s"},
"color":{"field":"dir","type":"nominal","scale":{"domain":["up","down"],"range":["#8e8e8e","#f6a0a0"]},"legend":null},
"detail":{"field":"seg","type":"nominal"}
}},
{"data":{"name":"macd"},
"mark":{"type":"line","color":"#e8302c","strokeWidth":1.2},
"encoding":{"x":{"field":"i","type":"quantitative"},"y":{"field":"s","type":"quantitative"}}},
{"data":{"name":"macd"},
"mark":{"type":"line","color":"#111111","strokeWidth":1.3},
"encoding":{"x":{"field":"i","type":"quantitative"},"y":{"field":"m","type":"quantitative"}}},
{"data":{"name":"mtags"},"transform":[{"filter":"datum.kind == 'macd'"}],
"mark":{"type":"rule","strokeWidth":10.5,"color":"#111111"},
"encoding":{"x":{"datum":316.2},"x2":{"datum":327.7},"y":{"field":"value","type":"quantitative"}}},
{"data":{"name":"mtags"},"transform":[{"filter":"datum.kind == 'macd'"}],
"mark":{"type":"point","shape":"triangle-left","filled":true,"size":70,"color":"#111111","opacity":1},
"encoding":{"x":{"datum":315.4},"y":{"field":"value","type":"quantitative"}}},
{"data":{"name":"mtags"},"transform":[{"filter":"datum.kind == 'macd'"}],
"mark":{"type":"text","align":"left","baseline":"middle","fontSize":7.5,"font":"Liberation Sans","color":"#ffffff"},
"encoding":{"x":{"datum":317.3},"y":{"field":"value","type":"quantitative"},"text":{"field":"label"}}},
{"data":{"name":"mtags"},"transform":[{"filter":"datum.kind == 'hist'"}],
"mark":{"type":"rule","strokeWidth":11,"color":"#1db4ea"},
"encoding":{"x":{"datum":316.2},"x2":{"datum":328.0},"y":{"field":"value","type":"quantitative"}}},
{"data":{"name":"mtags"},"transform":[{"filter":"datum.kind == 'hist'"}],
"mark":{"type":"point","shape":"triangle-left","filled":true,"size":75,"color":"#1db4ea","opacity":1},
"encoding":{"x":{"datum":315.4},"y":{"field":"value","type":"quantitative"}}},
{"data":{"name":"mtags"},"transform":[{"filter":"datum.kind == 'hist'"}],
"mark":{"type":"text","align":"left","baseline":"middle","fontSize":7.5,"font":"Liberation Sans","color":"#0c3b5e"},
"encoding":{"x":{"datum":317.1},"y":{"field":"value","type":"quantitative"},"text":{"field":"label"}}},
{"data":{"values":[{}]},
"mark":{"type":"rule","strokeWidth":2,"color":"#111111"},
"encoding":{"x":{"datum":314.23},"x2":{"datum":332.9},"y":{"datum":-0.00305}}},
{"data":{"values":[{}]},
"mark":{"type":"text","text":"a2au","align":"left","baseline":"alphabetic","fontSize":20,"font":"Liberation Sans","fill":"#ffffff","stroke":"#000000","strokeWidth":1.1},
"encoding":{"x":{"datum":312.3},"y":{"datum":-0.00288}}}
]
}
]
}
